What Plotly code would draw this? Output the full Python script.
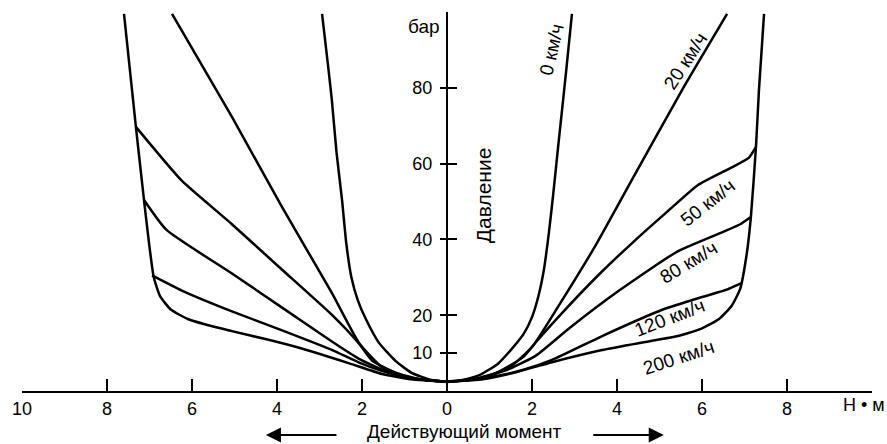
import plotly.graph_objects as go

# ---- data (torque N·m, pressure bar) ----
x_0kmh = [-2.94, -2.8, -2.71, -2.6, -2.47, -2.37, -2.25, -2.1, -1.91, -1.6, -1.2, -0.82, -0.4, 0,
          0.4, 0.8, 1.2, 1.5, 1.8, 2.0, 2.15, 2.28, 2.4, 2.5, 2.62, 2.8, 2.94]
y_0kmh = [99.5, 86, 76.8, 63, 50.4, 39, 30, 24, 19, 12.7, 7.8, 4.7, 3.0, 2.4,
          3.0, 4.4, 7.2, 10.8, 15, 19.5, 25, 32, 42, 52, 65, 84, 99.5]

x_20kmh = [-6.47, -5.06, -3.88, -2.71, -2.07, -1.53, -1.0, -0.5, 0,
           0.5, 1.0, 1.5, 2.0, 2.6, 3.5, 4.35, 5.53, 6.59]
y_20kmh = [99.5, 72.3, 48.5, 25.9, 12.7, 6.3, 4.0, 2.9, 2.5,
           2.9, 4.0, 6.5, 11.6, 22, 38.5, 55.7, 79.4, 99.5]

x_50kmh = [-7.32, -6.24, -5.06, -3.88, -2.7, -2.07, -1.76, -1.2, -0.6, 0,
           0.6, 1.2, 1.8, 2.1, 2.7, 3.6, 4.4, 5.15, 5.9, 6.7, 7.1, 7.27]
y_50kmh = [69.7, 55.5, 44, 32, 20, 12.5, 8, 4.8, 3.0, 2.5,
           3.0, 5.0, 9.0, 13, 20.5, 31, 39.5, 47, 54.3, 59, 61.5, 64.4]

x_80kmh = [-7.13, -6.6, -5.06, -3.88, -2.7, -2.07, -1.5, -0.8, 0,
           0.8, 1.5, 2.1, 2.87, 4.05, 5.42, 6.5, 6.9, 7.15]
y_80kmh = [50.4, 42.5, 31, 22, 13, 8.5, 5.5, 3.4, 2.5,
           3.5, 6.0, 9.4, 16.5, 26.5, 36.8, 42, 44, 45.9]

x_120kmh = [-6.94, -6.24, -5.06, -3.88, -2.7, -2.07, -1.5, -0.8, 0,
            0.6, 1.2, 1.8, 2.47, 3.65, 5.08, 6.0, 6.6, 6.94]
y_120kmh = [30.5, 26.5, 21, 16, 10.8, 7.5, 5.2, 3.2, 2.5,
            3.0, 4.0, 5.6, 8.2, 14.5, 21.5, 24.8, 26.8, 28.5]

x_200kmh = [-7.6, -7.32, -7.13, -7.0, -6.9, -6.75, -6.5, -6.1, -5.5, -5.06, -4.2,
            -3.48, -2.3, -1.53, -0.8, 0,
            0.8, 1.5, 2.47, 3.65, 4.8, 5.46, 6.0, 6.4, 6.7, 6.9, 7.05, 7.15, 7.27, 7.34, 7.46]
y_200kmh = [99.5, 69.7, 50.4, 38, 30, 25, 21.5, 19, 17, 15.8, 13.5,
            11.4, 7.3, 4.5, 3.0, 2.5,
            3.0, 4.6, 7.6, 10.8, 13.2, 14.6, 16.5, 19, 22.5, 27, 36, 45.9, 64.4, 79.4, 99.5]

series = [
    ("0 км/ч", x_0kmh, y_0kmh),
    ("20 км/ч", x_20kmh, y_20kmh),
    ("50 км/ч", x_50kmh, y_50kmh),
    ("80 км/ч", x_80kmh, y_80kmh),
    ("120 км/ч", x_120kmh, y_120kmh),
    ("200 км/ч", x_200kmh, y_200kmh),
]

# curve labels: (text, x, y, angle)
curve_labels = [
    ("0 км/ч", 2.47, 90.0, -77),
    ("20 км/ч", 5.6, 87.0, -57),
    ("50 км/ч", 6.14, 49.8, -38),
    ("80 км/ч", 5.68, 34.0, -31),
    ("120 км/ч", 5.25, 19.3, -21),
    ("200 км/ч", 5.45, 8.8, -18),
]

x_tickvals = [-10, -8, -6, -4, -2, 0, 2, 4, 6, 8, 10]
x_ticktext = ["10", "8", "6", "4", "2", "0", "2", "4", "6", "8", ""]
y_tickvals = [10, 20, 40, 60, 80]
y_ticktext = ["10", "20", "40", "60", "80"]

FONT = "Liberation Sans, Arial, sans-serif"

fig = go.Figure()
for name, xs, ys in series:
    fig.add_trace(go.Scatter(x=xs, y=ys, mode="lines", name=name,
                             line=dict(color="black", width=2.5, shape="spline", smoothing=0.5),
                             showlegend=False, hoverinfo="skip"))
# dummy trace so the overlaid inside-tick axis is drawn
fig.add_trace(go.Scatter(x=[None], y=[None], yaxis="y2", showlegend=False))

annotations = []
for text, x, y, ang in curve_labels:
    annotations.append(dict(x=x, y=y, xref="x", yref="y", text=text, showarrow=False,
                            textangle=ang, font=dict(family=FONT, size=19, color="black")))
annotations += [
    dict(x=0, y=96.3, xref="x", yref="y", text="бар", showarrow=False, xanchor="right",
         xshift=-5, font=dict(family=FONT, size=19, color="black")),
    dict(x=0.85, y=51.7, xref="x", yref="y", text="Давление", showarrow=False,
         textangle=-90, font=dict(family=FONT, size=21, color="black")),
    dict(x=10, y=-0.037, xref="x", yref="paper", text="Н • м", showarrow=False,
         xanchor="center", yanchor="middle", xshift=-8,
         font=dict(family=FONT, size=18, color="black")),
    dict(x=0.4, y=-0.108, xref="x", yref="paper", text="Действующий момент", showarrow=False,
         yanchor="middle", font=dict(family=FONT, size=19, color="black")),
    dict(x=-4.26, y=-0.116, xref="x", yref="paper", text="", showarrow=True, ax=72, ay=0,
         arrowhead=2, arrowsize=1.5, arrowwidth=2, arrowcolor="black"),
    dict(x=5.1, y=-0.116, xref="x", yref="paper", text="", showarrow=True, ax=-72, ay=0,
         arrowhead=2, arrowsize=1.5, arrowwidth=2, arrowcolor="black"),
]

fig.update_layout(
    width=887, height=444,
    margin=dict(l=22, r=15, t=12, b=53),
    paper_bgcolor="white", plot_bgcolor="white",
    showlegend=False,
    xaxis=dict(range=[-10, 10], showgrid=False, zeroline=False, showline=True,
               linecolor="black", linewidth=2, ticks="inside", ticklen=12, tickwidth=2,
               tickcolor="black", tickvals=x_tickvals, ticktext=x_ticktext,
               tickfont=dict(family=FONT, size=18, color="black")),
    yaxis=dict(range=[0, 100], anchor="free", position=0.5, showgrid=False, zeroline=False,
               showline=True, linecolor="black", linewidth=2, ticks="outside", ticklen=6,
               tickwidth=2, tickcolor="black", tickvals=y_tickvals, ticktext=y_ticktext,
               tickfont=dict(family=FONT, size=18, color="black"), ticklabelstandoff=4),
    yaxis2=dict(range=[0, 100], overlaying="y", anchor="free", position=0.5, side="left",
                showgrid=False, zeroline=False, showline=False, ticks="inside", ticklen=9,
                tickwidth=2, tickcolor="black", tickvals=y_tickvals + [100],
                showticklabels=False),
    annotations=annotations,
)

fig.write_html("out.html", config={"displayModeBar": False},
               post_script="document.body.style.margin='0';")
